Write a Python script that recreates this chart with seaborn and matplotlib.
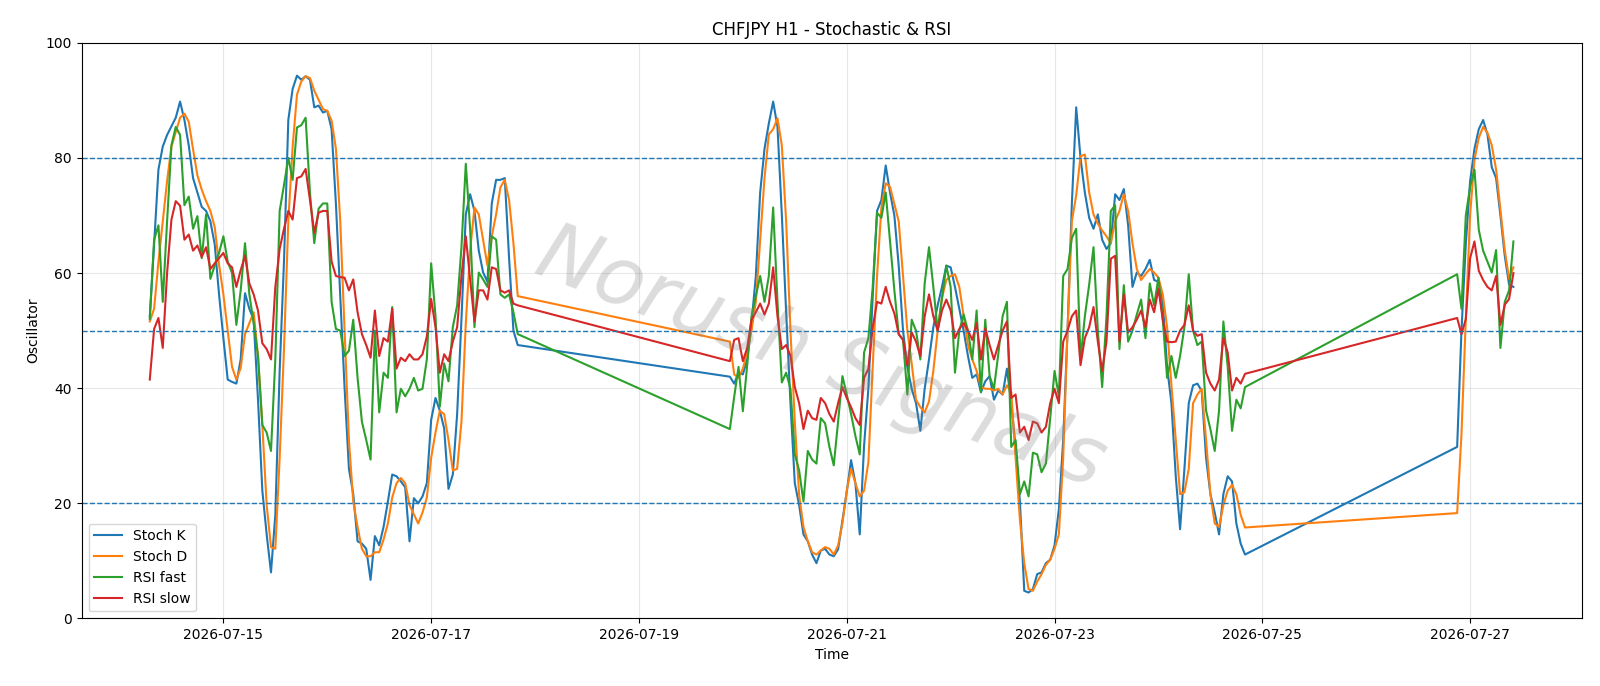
import numpy as np
import pandas as pd
import matplotlib
matplotlib.use("Agg")
import matplotlib.pyplot as plt
import matplotlib.dates as mdates
import seaborn as sns

# ---- time axis (H1 bars, three trading blocks) ----
seg_starts = ["2026-07-14 07:00", "2026-07-19 21:00", "2026-07-26 21:00"]
seg_ends = ["2026-07-17 20:00", "2026-07-24 20:00", "2026-07-27 10:00"]

# ---- Stoch K ----
stoch_k_1 = [52.5, 65, 78, 82, 84, 85.5, 87, 89.8, 86.6, 82.2, 76.5, 74, 71.5, 70.8, 69, 65, 56.3, 48.7, 41.5, 41.1,
             40.8, 45, 56.5, 53.8, 51.9, 38, 22.2, 14.6, 8, 18, 43, 62, 86.6, 92, 94.3, 93.6, 94.2, 93.6, 88.8, 89.1,
             87.9, 88.2, 85, 72, 56, 40, 26, 21.6, 13.4, 13, 12.1, 6.7, 14.3, 12.7, 15.9, 20.3, 25, 24.7, 23.8, 22.8,
             13.4, 20.9, 20, 21.2, 23.5, 34.5, 38.3, 36.1, 33, 22.5, 25, 35.5, 52, 70.2, 73.7, 70.8, 63.9, 60.1, 58.5, 72.1,
             76.2, 76.2, 76.5, 62.6, 50, 47.5]
stoch_k_2 = [42, 40.8, 42.7, 42.4, 45, 51.3, 59.5, 74, 81.6, 86, 89.8, 85.4, 70.2, 53.2, 37.4, 23.5, 19.7, 14.6, 13.4, 11.1,
             9.6, 11.8, 12.1, 11.1, 10.8, 12, 17, 22, 27.5, 23.5, 14.6, 30, 40, 56, 70.8, 72.7, 78.7, 74, 70, 61.3,
             50, 43.7, 39.9, 37.4, 32.6, 39.9, 45, 50.6, 54.4, 57.6, 61.3, 61, 57.6, 53.8, 50, 45.6, 41.8, 42.4, 39.3, 41.2,
             42.1, 38, 39.6, 38.9, 43.4, 37.4, 29.8, 20.3, 4.8, 4.5, 5.1, 7.7, 8, 9.6, 10.2, 12.7, 19, 31, 50, 72.1,
             88.8, 80, 74, 69.6, 67.7, 70.2, 65.8, 64.2, 65.2, 73.7, 72.7, 74.6, 68.3, 57.6, 60.1, 59.5, 60.7, 62.3, 58.8, 58.5,
             55, 43.7, 37.4, 24.7, 15.5, 26, 37.4, 40.5, 40.8, 39.5, 27.9, 21.6, 18.4, 14.6, 21.6, 24.7, 23.8, 16.5, 13, 11.1]
stoch_k_3 = [29.8, 50, 65, 76, 81.6, 85, 86.6, 84.1, 78.4, 76.5, 70, 63, 58, 57.6]

# ---- Stoch D ----
stoch_d_1 = [51.6, 53.8, 62, 69, 76, 82, 84.5, 87, 87.7, 86.3, 81.5, 77, 74.5, 72.5, 70.8, 68, 61.5, 56.3, 50, 43.7,
             41.5, 43.5, 49.4, 51.3, 53.2, 45.6, 33.6, 19.7, 12.4, 12.1, 27.9, 46.8, 69, 82, 91, 93.3, 94.2, 93.9, 91.7, 90.1,
             88.5, 88.2, 86.5, 81.6, 69, 50, 31, 20.3, 15.9, 12.1, 10.8, 10.8, 11.5, 11.5, 13.7, 16.5, 21, 23.5, 24.4, 23.5,
             19.7, 18.1, 16.5, 18.4, 21, 27.9, 32.3, 36.1, 35.5, 31, 25.7, 26, 34.2, 51.3, 63.9, 71.4, 70.2, 65.8, 61.3, 66.4,
             70.2, 74.9, 76.2, 72.7, 65.2, 56]
stoch_d_2 = [48.1, 42.4, 41.8, 43.4, 46.2, 50, 55, 65.8, 76.5, 84.1, 85, 86.9, 82.2, 69, 50, 34.2, 21.5, 15.9, 13.4, 11.5,
             11.1, 11.8, 12.4, 12.1, 11.1, 12.7, 16.5, 22.2, 26, 23.5, 21.2, 22.2, 27.2, 43.7, 59.5, 71.4, 75.6, 75, 72, 69,
             59.5, 50, 44.3, 38, 36.7, 35.8, 37.7, 43, 50, 55.7, 58.8, 59.5, 59.8, 57.6, 52.5, 47.5, 45, 43, 40.2, 39.9,
             39.9, 39.6, 39.9, 38.9, 40.5, 39.3, 27.9, 17.1, 9.6, 5.1, 4.8, 6.4, 7.7, 9.3, 10.2, 12.1, 14.6, 27.9, 50, 69,
             73.5, 80.3, 80.6, 74, 70.2, 68.6, 67.4, 66.4, 65.2, 69, 70.8, 73.7, 70.8, 65.2, 60.7, 58.8, 59.8, 60.7, 60.1, 59.2,
             56.3, 50.6, 40.5, 31, 21.6, 21.9, 26, 37.4, 38.9, 39.9, 31, 21.6, 16.5, 15.9, 19.7, 22.2, 23.2, 21.6, 18, 15.8]
stoch_d_3 = [18.3, 32, 52, 70.2, 79.7, 83.5, 85.4, 84.4, 82.2, 78, 71, 64, 59, 61]

# ---- RSI fast ----
rsi_fast_1 = [52, 65.8, 68.3, 55, 69, 82.2, 85.4, 84, 71.8, 73.3, 67.7, 69.9, 62.6, 70.2, 59, 61.3, 63.5, 66.4, 62, 60,
              51, 57, 65.2, 56.3, 51.3, 45.6, 33.6, 32.3, 29.1, 45, 70.8, 75.3, 80, 76.2, 85.3, 85.7, 87, 74, 65.2, 71.2,
              72.1, 72.1, 55, 50.3, 50, 45.6, 46.5, 51.9, 41.8, 34.2, 31, 27.6, 50, 35.8, 42.7, 41.8, 54.1, 35.8, 39.9, 38.6,
              39.9, 41.8, 39.6, 39.9, 45, 61.7, 52.5, 36.8, 44.3, 41.2, 50.6, 54.4, 64.5, 79, 67.7, 50.6, 60.1, 58.9, 57.6, 66.4,
              65.8, 56.3, 55.7, 56.3, 53.2, 49.4]
rsi_fast_2 = [32.9, 38.5, 43.7, 36, 44, 52.5, 56, 59.5, 55, 59.5, 71.4, 55, 41, 42.7, 39.9, 28.5, 25.7, 20.3, 29.1, 27.6,
              26.9, 34.8, 33.9, 29.8, 26.6, 34.2, 42.1, 38.9, 35.5, 31.7, 28.5, 46.2, 48.7, 57.6, 70.5, 69.6, 74, 65.5, 57, 49.4,
              48.4, 38.9, 51.9, 50, 45, 58.2, 64.5, 57.6, 50, 55.7, 61.3, 57.6, 42.7, 50, 52.8, 50, 45, 53.5, 39.3, 51.9,
              42.1, 39.9, 45.9, 52.5, 55, 29.8, 31, 21.6, 23.8, 21.2, 28.8, 28.5, 25.4, 26.9, 34.8, 43, 38.6, 59.5, 60.7, 66.1,
              67.7, 45, 52.5, 58, 64.5, 50, 40.2, 52.5, 70.8, 71.8, 46.8, 57.9, 48.1, 50, 52.8, 55.4, 48.7, 58.2, 54.4, 59.2,
              51.9, 41.8, 45.6, 41.8, 45.6, 50.6, 59.8, 50, 47.5, 48.1, 36.1, 32.9, 29.1, 36.1, 51.6, 43.7, 32.6, 38, 36.5, 40.2]
rsi_fast_3 = [59.8, 53.8, 70, 75, 78, 67.5, 63.9, 62, 60.1, 64, 47, 55, 57, 65.5]

# ---- RSI slow ----
rsi_slow_1 = [41.5, 50.3, 52.2, 47, 60, 69.3, 72.5, 71.7, 65.8, 66.7, 63.9, 64.8, 62.8, 64.5, 60.7, 61.7, 62.6, 63.5, 61.7, 61,
              57.6, 60.5, 63, 58.2, 56.3, 53.5, 47.8, 46.8, 45, 57.6, 64.2, 67.7, 70.8, 69.3, 76.5, 76.8, 78.1, 72.7, 67, 70.5,
              70.8, 70.8, 62, 59.5, 59.3, 59.2, 57, 58.9, 53.2, 49.4, 47.5, 45.3, 53.5, 45.6, 48.7, 48.1, 53.8, 43.4, 45.3, 44.7,
              45.9, 45, 45, 45.9, 49, 55.5, 50.6, 42.7, 45.9, 44.7, 48.1, 50.6, 59.5, 66.4, 58.9, 51.6, 57, 57, 55.4, 61,
              60.7, 57, 56.6, 57, 54.7, 54.4]
rsi_slow_2 = [44.7, 48.4, 48.7, 44.7, 47, 51.9, 53.2, 54.7, 52.8, 54.7, 61, 52.5, 46.8, 47.5, 45.6, 40.2, 37.4, 32.9, 36.1, 34.8,
              34.5, 38.3, 37.4, 35.5, 34.2, 37.4, 40.2, 38.3, 36.7, 34.8, 33.6, 41.8, 43.4, 50.6, 55, 54.7, 57.6, 55, 53, 49.4,
              48.4, 44, 49.7, 48.1, 45.6, 52.5, 56.3, 52.5, 50, 53.5, 55.4, 53.5, 48.7, 50.3, 51.3, 50, 48.4, 51.3, 45, 50.4,
              47.5, 45, 47.5, 50, 51.6, 38.3, 38.9, 32.3, 33.3, 31, 34.2, 33.9, 32.3, 33.3, 37.4, 39.9, 37.4, 48.1, 50, 52.5,
              53.5, 44, 48.7, 50.6, 54.1, 48.1, 43, 48.1, 62.5, 63, 48.1, 56.3, 49.7, 50.6, 51.9, 53.5, 50.6, 55.4, 53.2, 57.3,
              51.9, 48.1, 48, 48.1, 50, 51, 54.4, 50, 49.1, 49.4, 42.7, 40.8, 39.6, 41.5, 48.7, 46.2, 39.6, 41.8, 40.8, 42.5]
rsi_slow_3 = [52.2, 49.4, 52, 62.6, 65.5, 60.4, 58.8, 57.6, 57, 59.5, 51, 54.5, 55.5, 60]

series_names = ["Stoch K", "Stoch D", "RSI fast", "RSI slow"]
levels = [80, 50, 20]
watermark = "Norush Signals"

times = pd.DatetimeIndex(np.concatenate([
    pd.date_range(s, e, freq="h").values for s, e in zip(seg_starts, seg_ends)]))

values = {
    "Stoch K": stoch_k_1 + stoch_k_2 + stoch_k_3,
    "Stoch D": stoch_d_1 + stoch_d_2 + stoch_d_3,
    "RSI fast": rsi_fast_1 + rsi_fast_2 + rsi_fast_3,
    "RSI slow": rsi_slow_1 + rsi_slow_2 + rsi_slow_3,
}

frames = []
for name in series_names:
    v = values[name]
    assert len(v) == len(times), (name, len(v), len(times))
    frames.append(pd.DataFrame({"Time": times, "Oscillator": v, "series": name}))
df = pd.concat(frames, ignore_index=True)

fig = plt.figure(figsize=(16, 6.86), dpi=100)
ax = fig.add_axes([0.051, 0.0985, 0.9375, 0.839])

palette = ["#1f77b4", "#ff7f0e", "#2ca02c", "#d62728"]
sns.lineplot(data=df, x="Time", y="Oscillator", hue="series", hue_order=series_names,
             palette=palette, linewidth=1.5, ax=ax, sort=False, estimator=None)

for lv in levels:
    ax.axhline(lv, color="#1f77b4", linestyle="--", linewidth=1.0)

ax.set_ylim(0, 100)
ax.grid(True, alpha=0.3)
ax.xaxis.set_major_locator(mdates.DayLocator(bymonthday=[15, 17, 19, 21, 23, 25, 27]))
ax.xaxis.set_major_formatter(mdates.DateFormatter("%Y-%m-%d"))
ax.set_title("CHFJPY H1 - Stochastic & RSI", fontsize=12)
ax.set_xlabel("Time")
ax.set_ylabel("Oscillator")

handles, labels = ax.get_legend_handles_labels()
ax.legend(handles, labels, loc="lower left", framealpha=0.8)

ax.text(0.493, 0.45, watermark, transform=ax.transAxes, fontsize=58,
        color="gray", alpha=0.28, rotation=-21, ha="center", va="center",
        fontweight="light", style="italic", zorder=5)

fig.savefig("out.png", dpi=100)
